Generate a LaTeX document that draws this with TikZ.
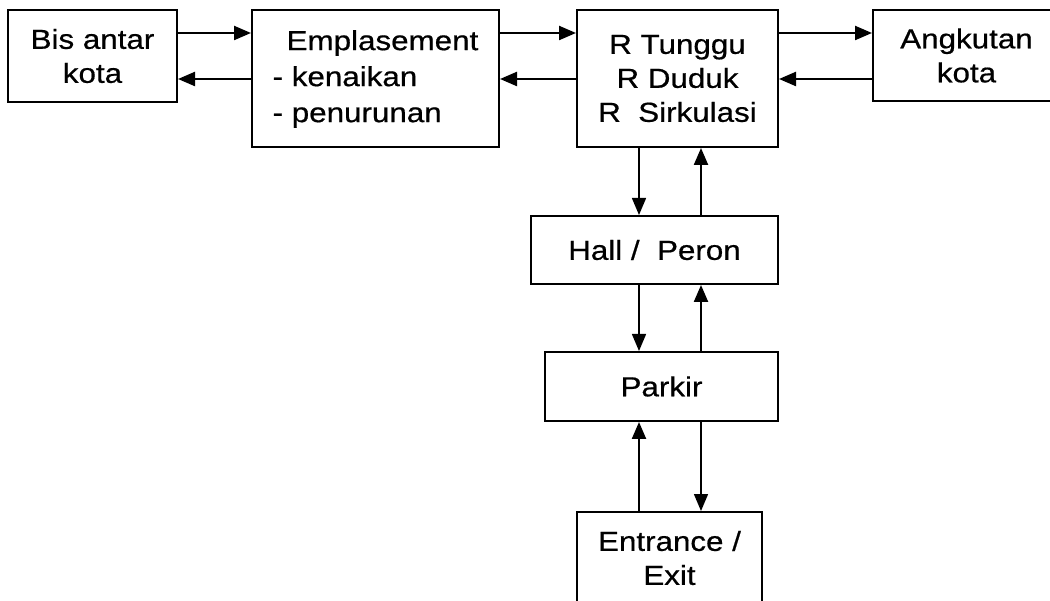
\documentclass[tikz,border=0pt]{standalone}
\usepackage{fontspec}
\setmainfont{Liberation Sans}[FakeStretch=1.14,FakeBold=0.6]
\usetikzlibrary{arrows.meta}
\begin{document}
\begin{tikzpicture}[x=1pt,y=-1pt,
  box/.style={draw, line width=2pt, inner sep=0pt, align=center,
              font=\fontsize{27.5}{34}\selectfont},
  arr/.style={line width=2.3pt, -{Triangle[length=17pt,width=14pt]}},
  thinarr/.style={line width=1.5pt, -{Triangle[length=17pt,width=14pt]}}]
\useasboundingbox (0,0) rectangle (1050,601);
\clip (0,0) rectangle (1050,601);

% blocks
\node[box, minimum width=169pt, minimum height=92pt] (bis) at (92.5,56) {Bis antar\\kota};
\node[box, minimum width=247pt, minimum height=137pt, align=left,
      font=\fontsize{27.5}{36}\selectfont] (emp) at (375.5,79)
  {\hspace{14pt}Emplasement\\- kenaikan\\- penurunan};
\node[box, minimum width=201pt, minimum height=137pt] (rr) at (677.5,78.5)
  {R Tunggu\\R Duduk\\R\ \ Sirkulasi};
\node[box, minimum width=187pt, minimum height=91pt] (ang) at (966.5,55.5) {Angkutan\\kota};
\node[box, minimum width=247pt, minimum height=68pt] (hall) at (654.5,250) {Hall /\ \ Peron};
\node[box, minimum width=233pt, minimum height=69pt] (park) at (661.5,386.5) {Parkir};
\node[box, minimum width=185pt, minimum height=92pt] (ent) at (669.5,558) {Entrance /\\Exit};

% connector rails
\coordinate (yu) at (0,33);
\coordinate (yd) at (0,79);
\coordinate (xl) at (639,0);
\coordinate (xr) at (701,0);

% top row
\draw[arr] (bis.east |- yu) -- (emp.west |- yu);
\draw[arr] (emp.west |- yd) -- (bis.east |- yd);
\draw[arr] (emp.east |- yu) -- (rr.west |- yu);
\draw[arr] (rr.west |- yd) -- (emp.east |- yd);
\draw[arr] (rr.east |- yu) -- (ang.west |- yu);
\draw[arr] (ang.west |- yd) -- (rr.east |- yd);

% vertical chain
\draw[thinarr] (rr.south -| xl) -- (hall.north -| xl);
\draw[arr] (hall.north -| xr) -- (rr.south -| xr);
\draw[thinarr] (hall.south -| xl) -- (park.north -| xl);
\draw[arr] (park.north -| xr) -- (hall.south -| xr);
\draw[arr] (ent.north -| xl) -- (park.south -| xl);
\draw[thinarr] (park.south -| xr) -- (ent.north -| xr);
\end{tikzpicture}
\end{document}
